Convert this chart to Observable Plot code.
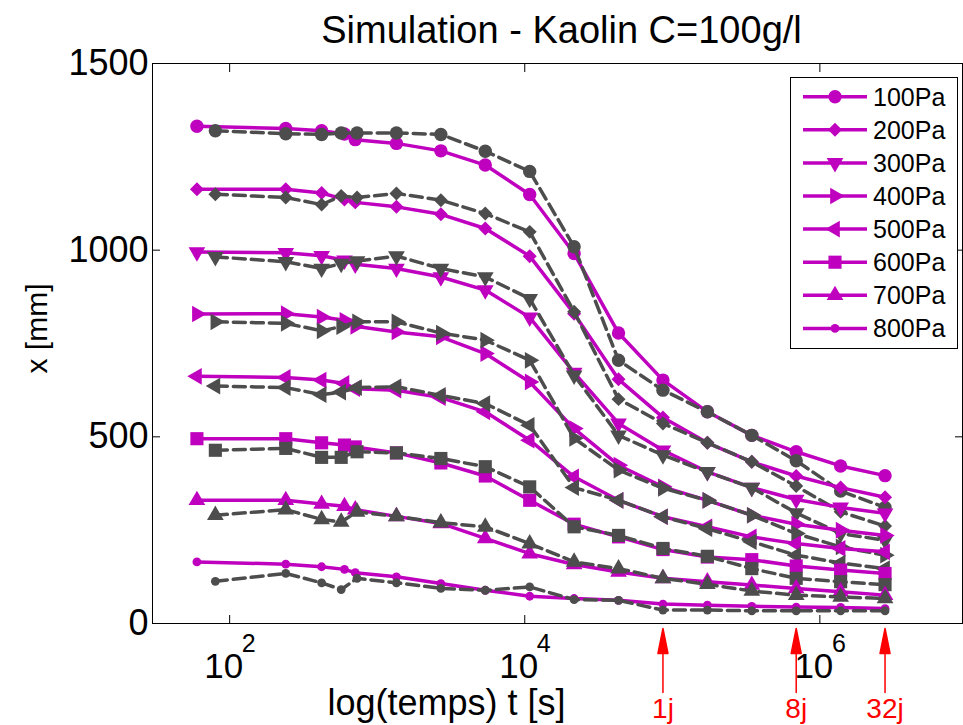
<!DOCTYPE html>
<html><head><meta charset="utf-8">
<script src="https://cdn.jsdelivr.net/npm/d3@7"></script>
<script src="https://cdn.jsdelivr.net/npm/@observablehq/plot@0.6"></script>
<style>body{margin:0;background:#fff} #chart svg{display:block}</style>
</head><body><div id="chart"></div>
<script>
// ---- data ----
const pressures = ["100Pa", "200Pa", "300Pa", "400Pa", "500Pa", "600Pa", "700Pa", "800Pa"];
// times [s] of the solid (magenta) series and of the dashed (grey) series
const timesSolid  = [60, 240, 420, 600, 710, 1350, 2700, 5400, 10800, 21600, 43200, 86400, 172800, 345600, 691200, 1382400, 2764800];
const timesDashed = [80, 240, 420, 570, 730, 1350, 2700, 5400, 10800, 21600, 43200, 86400, 172800, 345600, 691200, 1382400, 2764800];

const solid100 = [1332, 1326, 1320, 1311, 1296, 1286, 1266, 1228, 1149, 991, 778, 652, 567, 504, 460, 422, 396];
const solid200 = [1163, 1163, 1153, 1136, 1128, 1116, 1096, 1058, 984, 830, 654, 552, 484, 433, 395, 364, 338];
const solid300 = [995, 993, 985, 973, 962, 951, 928, 893, 820, 672, 536, 464, 406, 364, 332, 311, 295];
const solid400 = [829, 830, 821, 812, 796, 781, 768, 723, 647, 522, 424, 366, 330, 290, 266, 250, 236];
const solid500 = [662, 659, 652, 643, 629, 625, 605, 567, 491, 393, 330, 286, 259, 232, 214, 201, 192];
const solid600 = [495, 495, 484, 478, 473, 457, 430, 395, 330, 266, 232, 198, 178, 171, 154, 143, 134];
const solid700 = [330, 330, 320, 314, 305, 287, 268, 228, 187, 158, 138, 121, 112, 103, 94, 85, 76];
const solid800 = [165, 159, 152, 145, 136, 125, 107, 89, 73, 67, 62, 52, 49, 46, 44, 43, 40];

const dashed100 = [1320, 1312, 1310, 1314, 1314, 1314, 1310, 1265, 1211, 1009, 705, 625, 567, 504, 436, 355, 311];
const dashed200 = [1150, 1141, 1122, 1145, 1141, 1152, 1134, 1098, 1049, 835, 601, 536, 484, 433, 368, 299, 261];
const dashed300 = [982, 969, 951, 964, 971, 984, 951, 928, 870, 665, 504, 451, 406, 364, 296, 241, 223];
const dashed400 = [808, 804, 784, 795, 808, 808, 778, 759, 705, 496, 411, 362, 330, 290, 241, 205, 183];
const dashed500 = [636, 632, 613, 620, 632, 634, 611, 589, 531, 364, 330, 286, 254, 219, 183, 162, 147];
const dashed600 = [464, 469, 445, 445, 460, 457, 442, 420, 366, 259, 236, 201, 180, 147, 121, 112, 104];
const dashed700 = [290, 305, 279, 272, 299, 287, 270, 259, 214, 165, 147, 121, 105, 87, 76, 71, 67];
const dashed800 = [113, 134, 109, 91, 121, 109, 94, 89, 98, 64, 62, 36, 36, 34, 34, 34, 34];

const xTicks = [1e2, 1e4, 1e6];
const yTicks = [0, 500, 1000, 1500];
const markerTimes  = [86400, 691200, 2764800];
const markerLabels = ["1j", "8j", "32j"];

const titleText = "Simulation - Kaolin C=100g/l";
const xLabel = "log(temps) t [s]";
const yLabel = "x [mm]";

// ---- styling ----
const MAG = "#BF00BF", GREY = "#4D4D4D";
const FONT = "'Liberation Sans', Arial, Helvetica, sans-serif";
const symbolSpec = [
  {symbol: "circle",   rotate: 0,   r: 6.7},
  {symbol: "diamond2", rotate: 0,   r: 6.3},
  {symbol: "triangle", rotate: 180, r: 6.2},
  {symbol: "triangle", rotate: 90,  r: 6.2},
  {symbol: "triangle", rotate: -90, r: 6.2},
  {symbol: "square",   rotate: 0,   r: 7.4},
  {symbol: "triangle", rotate: 0,   r: 6.2},
  {symbol: "circle",   rotate: 0,   r: 4.4}
];

const solidValues  = [solid100, solid200, solid300, solid400, solid500, solid600, solid700, solid800];
const dashedValues = [dashed100, dashed200, dashed300, dashed400, dashed500, dashed600, dashed700, dashed800];

const seriesMarks = pressures.flatMap((p, i) => {
  const s = symbolSpec[i];
  const solid  = timesSolid.map((t, j) => ({t, v: solidValues[i][j], p}));
  const dashed = timesDashed.map((t, j) => ({t, v: dashedValues[i][j], p}));
  return [
    Plot.line(solid,  {x: "t", y: "v", stroke: MAG, strokeWidth: 3.5}),
    Plot.dot(solid,   {x: "t", y: "v", symbol: s.symbol, r: s.r, rotate: s.rotate, fill: MAG, stroke: "none"}),
    Plot.line(dashed, {x: "t", y: "v", stroke: GREY, strokeWidth: 3.5, strokeDasharray: "12,6"}),
    Plot.dot(dashed,  {x: "t", y: "v", symbol: s.symbol, r: s.r, rotate: s.rotate, fill: GREY, stroke: "none"})
  ];
});

const arrowShape = {
  draw(ctx, l) {
    ctx.moveTo(0, 0);
    ctx.lineTo(0, -l);
    ctx.moveTo(-5, 25 - l);
    ctx.lineTo(0, -l);
    ctx.lineTo(5, 25 - l);
    ctx.closePath();
  }
};
const markerRows = markerTimes.map((t, i) => ({t, label: markerLabels[i]}));

const chart = Plot.plot({
  width: 963,
  height: 725,
  marginLeft: 152,
  marginRight: 1,
  marginTop: 63,
  marginBottom: 102,
  style: {fontFamily: FONT, background: "white", overflow: "visible"},
  x: {type: "log", domain: [30, 9.26e6]},
  y: {domain: [0, 1500]},
  marks: [
    ...seriesMarks,
    Plot.frame({stroke: "black", strokeWidth: 1}),
    Plot.axisY({ticks: yTicks, anchor: "left", tickSize: 8, dx: 8, tickPadding: 4, fontSize: 36, label: null, tickFormat: d => String(d)}),
    Plot.axisY({ticks: yTicks, anchor: "right", tickSize: 8, dx: -8, label: null, tickFormat: () => ""}),
    Plot.axisX({ticks: xTicks, anchor: "bottom", tickSize: 8, dy: -8, label: null, tickFormat: () => ""}),
    Plot.axisX({ticks: xTicks, anchor: "top", tickSize: 8, dy: 8, label: null, tickFormat: () => ""}),
    Plot.text(xTicks, {x: d => d, y: () => 0, text: () => "10", dx: -6, dy: 54, lineAnchor: "bottom", fontSize: 35, fill: "black"}),
    Plot.text(xTicks, {x: d => d, y: () => 0, text: d => String(Math.round(Math.log10(d))), dx: 19, dy: 28, lineAnchor: "bottom", fontSize: 25, fill: "black"}),
    Plot.text([xLabel], {frameAnchor: "bottom", dx: -111, dy: 91, lineAnchor: "bottom", fontSize: 36, fill: "black"}),
    Plot.text([yLabel], {frameAnchor: "left", dx: -115, dy: 30, rotate: -90, fontSize: 30, fill: "black"}),
    Plot.text([titleText], {frameAnchor: "top", dx: 4, dy: -21, lineAnchor: "bottom", fontSize: 38, fill: "black"}),
    Plot.vector(markerRows, {x: "t", y: () => 0, dy: 69, length: 64, anchor: "start", rotate: 0, shape: arrowShape, stroke: "red", fill: "red", strokeWidth: 1.5}),
    Plot.text(markerRows, {x: "t", y: () => 0, text: "label", dy: 94, lineAnchor: "bottom", fontSize: 28, fill: "red"})
  ]
});

document.getElementById("chart").appendChild(chart);

// ---- legend (drawn inside the same svg, top-right) ----
const svg = d3.select(chart);
const lg = svg.append("g").attr("font-family", FONT);
lg.append("rect").attr("x", 790.5).attr("y", 77.5).attr("width", 167).attr("height", 271)
  .attr("fill", "white").attr("stroke", "black").attr("stroke-width", 1);
const symMap = {circle: d3.symbolCircle, diamond2: d3.symbolDiamond2, triangle: d3.symbolTriangle, square: d3.symbolSquare};
pressures.forEach((p, i) => {
  const y = 96.7 + i * 33.1;
  const s = symbolSpec[i];
  lg.append("line").attr("x1", 803).attr("x2", 867).attr("y1", y).attr("y2", y)
    .attr("stroke", MAG).attr("stroke-width", 3.5);
  lg.append("path").attr("d", d3.symbol(symMap[s.symbol], Math.PI * s.r * s.r)())
    .attr("transform", `translate(835,${y}) rotate(${s.rotate})`).attr("fill", MAG);
  lg.append("text").attr("x", 873).attr("y", y).attr("dy", "0.36em").attr("font-size", 25)
    .attr("text-anchor", "start").attr("fill", "black").text(p);
});
</script>
</body></html>
